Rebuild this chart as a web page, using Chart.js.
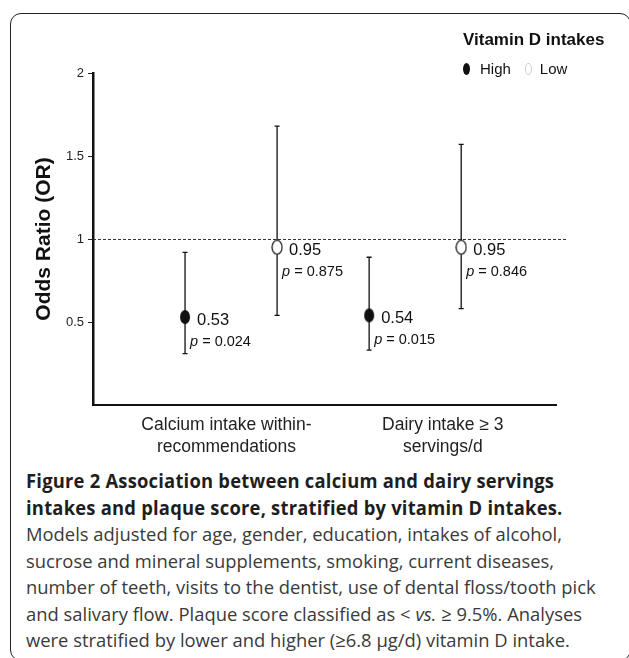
<!DOCTYPE html>
<html>
<head>
<meta charset="utf-8">
<script src="https://cdn.jsdelivr.net/npm/chart.js@4.4.0/dist/chart.umd.min.js"></script>
<style>
  html, body { margin: 0; padding: 0; background: #fff; }
  #wrap { position: relative; width: 629px; height: 658px; overflow: hidden; }
  #frame { position: absolute; left: 10px; top: 13px; width: 621px; height: 648px;
           border: 1.5px solid #222; border-radius: 11px; box-sizing: border-box; }
  #chart { position: absolute; left: 0; top: 0; }
  #legend { position: absolute; left: 463px; top: 29px; font-family: 'Liberation Sans', Arial, sans-serif; color: #111; }
  #legend .lt { font-weight: bold; font-size: 17px; line-height: 22px; }
  #legend .li { font-size: 15px; line-height: 20px; margin-top: 8px; white-space: nowrap; }
  #legend .dot { display: inline-block; width: 7px; height: 12px; border-radius: 50%;
                 box-sizing: border-box; vertical-align: -1px; margin-right: 10px; }
  #legend .hi { background: #111; }
  #legend .lo { border: 1px solid #ccc; margin-left: 14px; margin-right: 8px; }
  #caption { position: absolute; left: 26px; top: 468px; font-family: 'Open Sans', sans-serif;
             font-size: 19px; line-height: 26.5px; color: #3a3a3a; white-space: nowrap;
             transform-origin: 0 0; transform: scaleX(0.968); }
  #caption b { color: #1e1e1e; letter-spacing: 0.22px; }
</style>
</head>
<body>
<div id="wrap">
  <div id="frame"></div>
  <canvas id="chart" width="629" height="460"></canvas>
  <div id="legend">
    <div class="lt">Vitamin D intakes</div>
    <div class="li"><span class="dot hi"></span>High<span class="dot lo"></span>Low</div>
  </div>
  <div id="caption">
    <b>Figure 2 Association between calcium and dairy servings</b><br>
    <b>intakes and plaque score, stratified by vitamin D intakes.</b><br>
    Models adjusted for age, gender, education, intakes of alcohol,<br>
    sucrose and mineral supplements, smoking, current diseases,<br>
    number of teeth, visits to the dentist, use of dental floss/tooth pick<br>
    and salivary flow. Plaque score classified as &lt; <i>vs.</i> ≥ 9.5%. Analyses<br>
    were stratified by lower and higher (≥6.8 μg/d) vitamin D intake.
  </div>
</div>
<script>
const categories = [['Calcium intake within-', 'recommendations'], ['Dairy intake ≥ 3', 'servings/d']];

const highOR = [0.53, 0.54];
const highLower = [0.31, 0.33];
const highUpper = [0.92, 0.89];
const highP = ['0.024', '0.015'];

const lowOR = [0.95, 0.95];
const lowLower = [0.54, 0.58];
const lowUpper = [1.68, 1.57];
const lowP = ['0.875', '0.846'];

const yTicks = [0.5, 1, 1.5, 2];

const FONT = "'Liberation Sans', Arial, sans-serif";
// category label nudge from group centre (x units)
const labelShift = [-0.05, 0.3];

function ellipse(w, h, fill, stroke) {
  const c = document.createElement('canvas');
  c.width = w + 2; c.height = h + 2;
  const g = c.getContext('2d');
  g.beginPath();
  g.ellipse(c.width / 2, c.height / 2, w / 2, h / 2, 0, 0, Math.PI * 2);
  g.fillStyle = fill; g.fill();
  if (stroke) { g.lineWidth = 1.2; g.strokeStyle = stroke; g.stroke(); }
  return c;
}

const errorBars = {
  id: 'errorBars',
  beforeDatasetsDraw(chart) {
    const { ctx, chartArea, scales: { x, y } } = chart;
    ctx.save();
    // reference line at OR = 1
    const y1 = Math.round(y.getPixelForValue(1)) + 0.5;
    ctx.strokeStyle = '#333'; ctx.lineWidth = 1; ctx.setLineDash([3, 2]);
    ctx.beginPath(); ctx.moveTo(chartArea.left, y1); ctx.lineTo(chartArea.right + 10, y1); ctx.stroke();
    ctx.setLineDash([]);
    ctx.strokeStyle = '#111'; ctx.lineWidth = 1.3;
    chart.data.datasets.forEach(ds => {
      ds.data.forEach((pt, i) => {
        const px = x.getPixelForValue(pt.x);
        const lo = y.getPixelForValue(ds.lower[i]);
        const hi = y.getPixelForValue(ds.upper[i]);
        ctx.beginPath();
        ctx.moveTo(px, lo); ctx.lineTo(px, hi);
        ctx.moveTo(px - 2.5, lo); ctx.lineTo(px + 2.5, lo);
        ctx.moveTo(px - 2.5, hi); ctx.lineTo(px + 2.5, hi);
        ctx.stroke();
      });
    });
    ctx.restore();
  },
  afterDatasetsDraw(chart) {
    const { ctx, scales: { x, y } } = chart;
    ctx.save();
    ctx.fillStyle = '#111';
    ctx.textBaseline = 'middle';
    chart.data.datasets.forEach(ds => {
      ds.data.forEach((pt, i) => {
        const px = x.getPixelForValue(pt.x);
        const py = y.getPixelForValue(pt.y);
        ctx.font = '16.5px ' + FONT;
        ctx.fillText(pt.y.toFixed(2), px + 12, py + 3);
        ctx.font = 'italic 14.5px ' + FONT;
        ctx.fillText('p', px + 5, py + 25);
        const w = ctx.measureText('p').width;
        ctx.font = '14.5px ' + FONT;
        ctx.fillText(' = ' + ds.pvals[i], px + 5 + w, py + 25);
      });
    });
    ctx.restore();
  }
};

new Chart(document.getElementById('chart'), {
  type: 'scatter',
  data: {
    datasets: [{
      label: 'High',
      data: categories.map((c, i) => ({ x: 2 * i + 1, y: highOR[i] })),
      lower: highLower, upper: highUpper, pvals: highP,
      pointStyle: ellipse(10, 14, '#111'),
    }, {
      label: 'Low',
      data: categories.map((c, i) => ({ x: 2 * i + 2, y: lowOR[i] })),
      lower: lowLower, upper: lowUpper, pvals: lowP,
      pointStyle: ellipse(10, 14, '#fff', '#111'),
    }]
  },
  options: {
    responsive: false,
    animation: false,
    devicePixelRatio: 1,
    layout: { padding: { left: 0, right: 73, top: 73, bottom: 0 } },
    plugins: { legend: { display: false }, tooltip: { enabled: false } },
    scales: {
      x: {
        type: 'linear', min: 0, max: 5.03,
        grid: { display: false, drawTicks: false },
        border: { display: true, color: '#111', width: 2 },
        afterBuildTicks: s => { s.ticks = categories.map((c, i) => ({ value: 2 * i + 1.5 + labelShift[i] })); },
        afterFit: s => { s.height = 55; },
        ticks: {
          padding: 9, color: '#222', maxRotation: 0, autoSkip: false,
          font: { family: FONT, size: 17.5, lineHeight: 1.25 },
          callback: (v, i) => categories[i]
        }
      },
      y: {
        min: 0, max: 2,
        afterBuildTicks: s => { s.ticks = yTicks.map(v => ({ value: v })); },
        afterFit: s => { s.width = 93; },
        grid: { display: true, drawOnChartArea: false, drawTicks: true, tickLength: 5, color: '#222' },
        border: { display: true, color: '#111', width: 2.5 },
        ticks: { padding: 4, color: '#222', font: { family: FONT, size: 13 }, callback: v => String(v) },
        title: {
          display: true, text: 'Odds Ratio (OR)', color: '#111',
          font: { family: FONT, size: 21, weight: 'bold' },
          padding: { top: 32, bottom: 0 }
        }
      }
    }
  },
  plugins: [errorBars]
});
</script>
</body>
</html>
